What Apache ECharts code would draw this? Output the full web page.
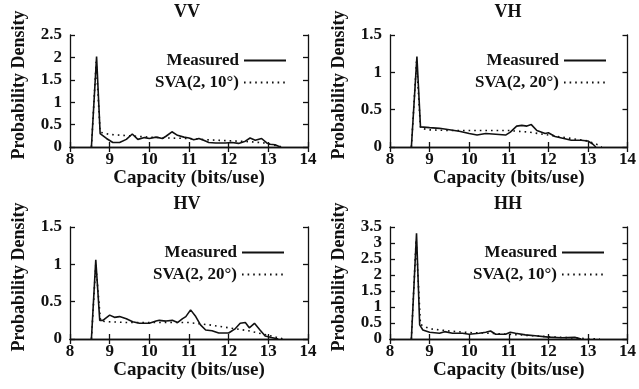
<!DOCTYPE html>
<html>
<head>
<meta charset="utf-8">
<script src="https://cdn.jsdelivr.net/npm/echarts@6/dist/echarts.min.js"></script>
<style>
  html, body { margin: 0; padding: 0; background: #fff; }
  #chart { width: 639px; height: 389px; }
</style>
</head>
<body>
<div id="chart"></div>
<script>
// Panel titles and legend labels
const panelTitles = ['VV', 'VH', 'HV', 'HH'];
const modelNames = ['SVA(2, 10°)', 'SVA(2, 20°)', 'SVA(2, 20°)', 'SVA(2, 10°)'];
const xTitle = 'Capacity (bits/use)';
const yTitle = 'Probability Density';
const yMaxes = [2.5, 1.5, 1.5, 3.5];

// VV
const vvMeasX = [8.54, 8.67, 8.76, 8.92, 9.08, 9.25, 9.42, 9.57, 9.71, 9.88, 10.0, 10.17, 10.33, 10.42, 10.57, 10.71, 10.87, 11.0, 11.12, 11.25, 11.37, 11.5, 11.67, 11.92, 12.08, 12.25, 12.42, 12.54, 12.67, 12.83, 12.96, 13.04, 13.17, 13.3];
const vvMeasY = [0, 2.02, 0.3, 0.19, 0.1, 0.1, 0.17, 0.29, 0.17, 0.21, 0.19, 0.22, 0.19, 0.24, 0.34, 0.26, 0.22, 0.2, 0.16, 0.19, 0.15, 0.1, 0.09, 0.09, 0.1, 0.08, 0.13, 0.2, 0.15, 0.19, 0.09, 0.06, 0.05, 0];
const vvSvaX = [8.54, 8.66, 8.76, 9.0, 9.5, 10.0, 10.5, 11.0, 11.5, 12.0, 12.5, 12.9, 13.2, 13.35];
const vvSvaY = [0, 1.9, 0.33, 0.28, 0.25, 0.22, 0.2, 0.19, 0.16, 0.14, 0.12, 0.09, 0.03, 0];

// VH
const vhMeasX = [8.54, 8.68, 8.77, 9.0, 9.25, 9.5, 9.75, 10.0, 10.2, 10.42, 10.67, 10.92, 11.04, 11.2, 11.33, 11.46, 11.57, 11.71, 11.92, 12.0, 12.17, 12.42, 12.58, 12.83, 13.0, 13.12, 13.2];
const vhMeasY = [0, 1.21, 0.27, 0.26, 0.25, 0.23, 0.21, 0.18, 0.16, 0.18, 0.17, 0.16, 0.2, 0.28, 0.29, 0.28, 0.3, 0.22, 0.18, 0.19, 0.14, 0.11, 0.09, 0.09, 0.08, 0.04, 0];
const vhSvaX = [8.54, 8.67, 8.77, 9.0, 9.5, 10.0, 10.5, 11.0, 11.5, 12.0, 12.5, 13.0, 13.25, 13.35];
const vhSvaY = [0, 1.15, 0.25, 0.23, 0.22, 0.22, 0.22, 0.22, 0.2, 0.16, 0.12, 0.08, 0.03, 0];

// HV
const hvMeasX = [8.54, 8.65, 8.75, 8.83, 9.0, 9.12, 9.25, 9.42, 9.58, 9.75, 10.0, 10.17, 10.25, 10.42, 10.58, 10.71, 10.83, 10.92, 11.04, 11.17, 11.29, 11.42, 11.58, 11.75, 12.0, 12.17, 12.29, 12.42, 12.52, 12.65, 12.79, 12.92, 13.08, 13.25];
const hvMeasY = [0, 1.06, 0.25, 0.25, 0.32, 0.29, 0.3, 0.27, 0.23, 0.21, 0.21, 0.24, 0.25, 0.24, 0.25, 0.22, 0.27, 0.3, 0.39, 0.3, 0.19, 0.12, 0.11, 0.08, 0.08, 0.14, 0.21, 0.22, 0.15, 0.21, 0.12, 0.04, 0.02, 0];
const hvSvaX = [8.54, 8.65, 8.77, 9.0, 9.5, 10.0, 10.5, 11.0, 11.5, 12.0, 12.5, 13.0, 13.3, 13.4];
const hvSvaY = [0, 1.0, 0.24, 0.23, 0.22, 0.22, 0.22, 0.22, 0.19, 0.15, 0.11, 0.05, 0.01, 0];

// HH
const hhMeasX = [8.54, 8.67, 8.75, 8.83, 9.0, 9.25, 9.38, 9.58, 9.83, 10.0, 10.25, 10.42, 10.54, 10.67, 10.92, 11.04, 11.17, 11.42, 11.67, 12.0, 12.33, 12.67, 12.83];
const hhMeasY = [0, 3.3, 0.44, 0.28, 0.21, 0.18, 0.23, 0.18, 0.18, 0.15, 0.18, 0.21, 0.25, 0.15, 0.15, 0.21, 0.18, 0.13, 0.1, 0.06, 0.04, 0.05, 0];
const hhSvaX = [8.54, 8.66, 8.77, 9.0, 9.5, 10.0, 10.5, 11.0, 11.5, 12.0, 12.5, 13.0, 13.3];
const hhSvaY = [0, 3.1, 0.45, 0.32, 0.25, 0.2, 0.18, 0.15, 0.11, 0.07, 0.04, 0.01, 0];

// Tick labels for the tall HH axis, split into two interleaved sets
const hhLabelsWhole = [0, 1, 2, 3];
const hhLabelsHalf = [0.5, 1.5, 2.5, 3.5];

const measured = [[vvMeasX, vvMeasY], [vhMeasX, vhMeasY], [hvMeasX, hvMeasY], [hhMeasX, hhMeasY]];
const model = [[vvSvaX, vvSvaY], [vhSvaX, vhSvaY], [hvSvaX, hvSvaY], [hhSvaX, hhSvaY]];

const zip = (xs, ys) => xs.map((x, i) => [x, ys[i]]);

const FONT = '"Liberation Serif", "Times New Roman", serif';
const INK = '#111';

// Panel placement in pixels
const grids = [
  { left: 70, top: 35, width: 238, height: 112 },
  { left: 390, top: 35, width: 240, height: 112 },
  { left: 70, top: 227, width: 238, height: 112 },
  { left: 390, top: 227, width: 240, height: 112 }
];

const textStyle = { fontFamily: FONT, fontWeight: 'bold', color: INK };
const tickLabel = Object.assign({ fontSize: 17, margin: 8, showMinLabel: true, showMaxLabel: true, hideOverlap: false }, textStyle);

const title = grids.map((g, i) => ({
  text: panelTitles[i],
  left: g.left + g.width / 2 - 2,
  top: g.top - 32,
  textAlign: 'center',
  padding: 0,
  textStyle: Object.assign({ fontSize: 18 }, textStyle)
}));

const xAxis = [];
const yAxis = [];
grids.forEach((g, i) => {
  xAxis.push({
    type: 'value', gridIndex: i, min: 8, max: 14, interval: 1,
    name: xTitle, nameLocation: 'middle', nameGap: 19,
    nameTextStyle: Object.assign({ fontSize: 19 }, textStyle),
    axisLine: { lineStyle: { color: INK, width: 1.3 } },
    axisTick: { inside: true, length: 5, lineStyle: { color: INK, width: 1.3 } },
    axisLabel: Object.assign({}, tickLabel, { margin: 4 }),
    splitLine: { show: false }
  });
  const label = Object.assign({}, tickLabel);
  if (i === 3) label.customValues = hhLabelsWhole;
  yAxis.push({
    type: 'value', gridIndex: i, min: 0, max: yMaxes[i], interval: 0.5,
    name: yTitle, nameLocation: 'middle', nameGap: 42,
    nameTextStyle: Object.assign({ fontSize: 18, padding: [0, 0, 0, 12] }, textStyle),
    axisLine: { show: true, lineStyle: { color: INK, width: 1.3 } },
    axisTick: { show: true, inside: true, length: 5, lineStyle: { color: INK, width: 1.3 } },
    axisLabel: label,
    splitLine: { show: false }
  });
});
// Mirrored border axes: ticks on the top and right edges of each box
grids.forEach((g, i) => {
  xAxis.push({
    type: 'value', gridIndex: i, min: 8, max: 14, interval: 1, position: 'top',
    axisLine: { lineStyle: { color: INK, width: 1.3 } },
    axisTick: { inside: true, length: 5, lineStyle: { color: INK, width: 1.3 } },
    axisLabel: { show: false }, splitLine: { show: false }
  });
  yAxis.push({
    type: 'value', gridIndex: i, min: 0, max: yMaxes[i], interval: 0.5, position: 'right',
    axisLine: { show: true, lineStyle: { color: INK, width: 1.3 } },
    axisTick: { show: true, inside: true, length: 5, lineStyle: { color: INK, width: 1.3 } },
    axisLabel: { show: false }, splitLine: { show: false }
  });
});
// Second label set on the HH left edge (half values)
yAxis.push({
  type: 'value', gridIndex: 3, min: 0, max: yMaxes[3], interval: 0.5, position: 'left',
  axisLine: { show: false }, axisTick: { show: false },
  axisLabel: Object.assign({}, tickLabel, { customValues: hhLabelsHalf }),
  splitLine: { show: false }
});

const series = [];
grids.forEach((g, i) => {
  series.push({
    name: 'Measured', type: 'line', xAxisIndex: i, yAxisIndex: i,
    data: zip(measured[i][0], measured[i][1]),
    symbol: 'none', showSymbol: false, animation: false,
    lineStyle: { color: INK, width: 1.6, type: 'solid' },
    itemStyle: { color: INK }
  });
  series.push({
    name: modelNames[i], type: 'line', xAxisIndex: i, yAxisIndex: i,
    data: zip(model[i][0], model[i][1]),
    symbol: 'none', showSymbol: false, animation: false,
    lineStyle: { color: INK, width: 1.6, type: [1.6, 4] },
    itemStyle: { color: INK }
  });
});

// Legend keys: text on the left, line sample on the right, no marker
const legendRight = [352, 32, 354, 34];
const legend = grids.map((g, i) => ({
  data: ['Measured', modelNames[i]],
  orient: 'vertical', align: 'right',
  right: legendRight[i], top: g.top + 17,
  itemWidth: 42, itemHeight: 14, itemGap: 5, padding: 0,
  selectedMode: false,
  itemStyle: { opacity: 0 },
  lineStyle: { opacity: 1 },
  textStyle: Object.assign({ fontSize: 17, lineHeight: 16 }, textStyle)
}));

const chart = echarts.init(document.getElementById('chart'), null, { renderer: 'canvas' });
chart.setOption({
  animation: false,
  backgroundColor: '#fff',
  title: title,
  legend: legend,
  grid: grids,
  xAxis: xAxis,
  yAxis: yAxis,
  series: series
});
</script>
</body>
</html>
